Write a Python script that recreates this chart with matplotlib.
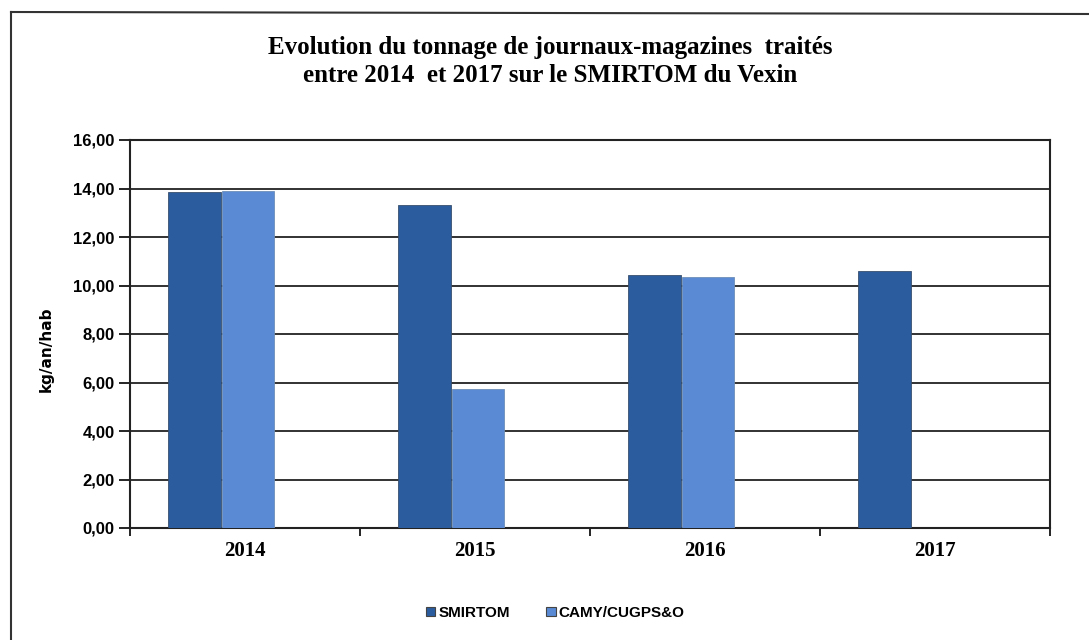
import matplotlib
matplotlib.use("Agg")
import matplotlib.pyplot as plt
from matplotlib.lines import Line2D
from matplotlib.patches import Patch
import numpy as np

categories = ["2014", "2015", "2016", "2017"]
smirtom = [13.86, 13.30, 10.43, 10.60]
camy = [13.90, 5.73, 10.35, np.nan]
series_names = ["SMIRTOM", "CAMY/CUGPS&O"]
yticks = [0, 2, 4, 6, 8, 10, 12, 14, 16]
ytick_labels = ["0,00", "2,00", "4,00", "6,00", "8,00", "10,00", "12,00", "14,00", "16,00"]

dark = "#2B5C9E"
light = "#5A8AD4"

fig = plt.figure(figsize=(10.89, 6.40), dpi=100)
ax = fig.add_axes([130/1089, 1-528/640, (1050-130)/1089, (528-140)/640])

x = np.arange(len(categories))
w = 0.23
ax.bar(x - 0.22, smirtom, width=w, color=dark, edgecolor="#3a4f6e", linewidth=0.6, zorder=3)
ax.bar(x + 0.013, camy, width=w, color=light, edgecolor="#6f8fb8", linewidth=0.6, zorder=3)

ax.set_xlim(-0.5, 3.5)
ax.set_ylim(0, 16)
ax.set_yticks(yticks)
ax.set_yticklabels(ytick_labels, fontfamily="Liberation Sans", fontweight="bold", fontsize=12)
ax.yaxis.grid(True, color="#222222", linewidth=1.3, zorder=0)
ax.set_axisbelow(True)

ax.set_xticks(x)
ax.set_xticklabels(categories, fontfamily="Liberation Serif", fontweight="bold", fontsize=15)
ax.set_xticks(np.arange(-0.5, 4.0, 1.0), minor=True)
ax.tick_params(axis="x", which="major", length=0, pad=9)
ax.tick_params(axis="x", which="minor", length=6, width=1.2, direction="out")
ax.tick_params(axis="y", which="major", length=8, width=1.2, direction="out", pad=3)

for s in ["left", "bottom", "top", "right"]:
    ax.spines[s].set_color("#222222")
    ax.spines[s].set_linewidth(1.5)

ax.set_ylabel("kg/an/hab", fontfamily="Liberation Sans Narrow", fontweight="bold", fontsize=11)
ax.yaxis.set_label_coords(-0.083, 0.46)

fig.text(0.505, 0.926, "Evolution du tonnage de journaux-magazines  traités",
         ha="center", va="center", fontfamily="Liberation Serif", fontweight="bold", fontsize=18)
fig.text(0.505, 0.882, "entre 2014  et 2017 sur le SMIRTOM du Vexin",
         ha="center", va="center", fontfamily="Liberation Serif", fontweight="bold", fontsize=18)

handles = [Patch(facecolor=dark, edgecolor="#444444", linewidth=0.8),
           Patch(facecolor=light, edgecolor="#444444", linewidth=0.8)]
leg = fig.legend(handles, series_names, loc="center", bbox_to_anchor=(0.51, 1-613/640),
                 ncol=2, frameon=False, handlelength=0.6, handleheight=0.6,
                 handletextpad=0.2, columnspacing=2.4,
                 prop={"family": "Liberation Sans", "weight": "bold", "size": 11})

# outer frame (top and left visible in scan)
fig.add_artist(Line2D([11/1089, 1.0], [1-12/640, 1-14/640], color="#333333", linewidth=1.5))
fig.add_artist(Line2D([11/1089, 11/1089], [1-12/640, 0.0], color="#333333", linewidth=1.5))

fig.savefig("out.png", dpi=100)
